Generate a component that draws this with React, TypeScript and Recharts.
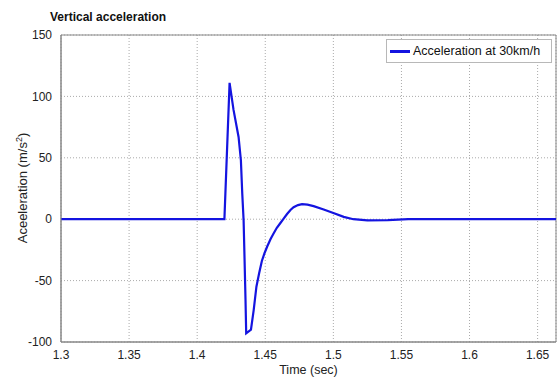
import {
  LineChart, Line, XAxis, YAxis, CartesianGrid, ReferenceArea, Label,
} from 'recharts'

// values
const timeSec = [
  1.3, 1.42, 1.4238, 1.4267, 1.4304, 1.4321, 1.4331, 1.4341, 1.4348, 1.4355,
  1.436, 1.4395, 1.4415, 1.4435, 1.4455, 1.4475, 1.4495, 1.4515, 1.454, 1.4561,
  1.4585, 1.461, 1.4635, 1.466, 1.4685, 1.4708, 1.474, 1.477, 1.481, 1.4855,
  1.4929, 1.5, 1.5076, 1.5147, 1.525, 1.54, 1.555, 1.6635,
]
const accel = [
  0, 0, 111, 89, 67, 48, 21, -1, -33, -66,
  -93, -90, -74, -55, -44, -34, -27.5, -22, -16, -11.7,
  -7, -3.3, 0.5, 4.2, 7.5, 9.7, 11.5, 12.2, 11.8, 10.6,
  7.9, 5, 1.9, 0, -1, -0.8, 0, 0,
]
const xTicks = [1.3, 1.35, 1.4, 1.45, 1.5, 1.55, 1.6, 1.65]
const yTicks = [-100, -50, 0, 50, 100, 150]
const seriesName = 'Acceleration at 30km/h'

const data = timeSec.map((t, i) => ({ t, a: accel[i] }))

const FONT = '"Liberation Sans", Arial, sans-serif'
const tickStyle = { fontSize: 12, fill: '#222', fontFamily: FONT }

export default function App() {
  return (
    <div style={{ position: 'absolute', left: 0, top: 0, width: 558, height: 379, background: '#fff' }}>
      <div style={{ position: 'absolute', left: 50, top: 10, fontFamily: FONT, fontWeight: 'bold', fontSize: 12, color: '#111' }}>
        Vertical acceleration
      </div>
      <div style={{
        position: 'absolute', left: 22, top: 188, transform: 'translate(-50%, -50%) rotate(-90deg)',
        whiteSpace: 'nowrap', fontFamily: FONT, fontSize: 13, color: '#222',
      }}>
        Aceeleration (m/s<sup style={{ fontSize: 9 }}>2</sup>)
      </div>
      <LineChart width={558} height={379} data={data} margin={{ top: 35, right: 2, left: 0, bottom: 0 }}>
        <CartesianGrid stroke="#aaa" strokeDasharray="1 2" />
        <XAxis
          dataKey="t" type="number" domain={[1.3, 1.6635]} ticks={xTicks} height={37}
          axisLine={{ stroke: '#888' }} tickLine={false} tick={tickStyle} tickMargin={2}
          allowDataOverflow
        >
          <Label value="Time (sec)" position="insideBottom" offset={5} style={{ ...tickStyle, fontSize: 12.5 }} />
        </XAxis>
        <YAxis
          type="number" domain={[-100, 150]} ticks={yTicks} width={61}
          axisLine={{ stroke: '#888' }} tickLine={false} tick={tickStyle} tickMargin={3}
        />
        <ReferenceArea x1={1.3} x2={1.6635} y1={-100} y2={150} fill="none" stroke="#888" strokeOpacity={1} />
        <Line
          type="linear" dataKey="a" name={seriesName} stroke="#1414e0" strokeWidth={2.2}
          dot={false} isAnimationActive={false}
        />
      </LineChart>
      <div style={{
        position: 'absolute', left: 386, top: 39, width: 164, height: 22,
        border: '1px solid #b8b8b8', background: '#fff',
        display: 'flex', alignItems: 'center', fontFamily: FONT, fontSize: 12.5, color: '#111',
      }}>
        <span style={{ display: 'inline-block', width: 20, height: 3, background: '#1414e0', margin: '0 3px' }} />
        <span>{seriesName}</span>
      </div>
    </div>
  )
}
